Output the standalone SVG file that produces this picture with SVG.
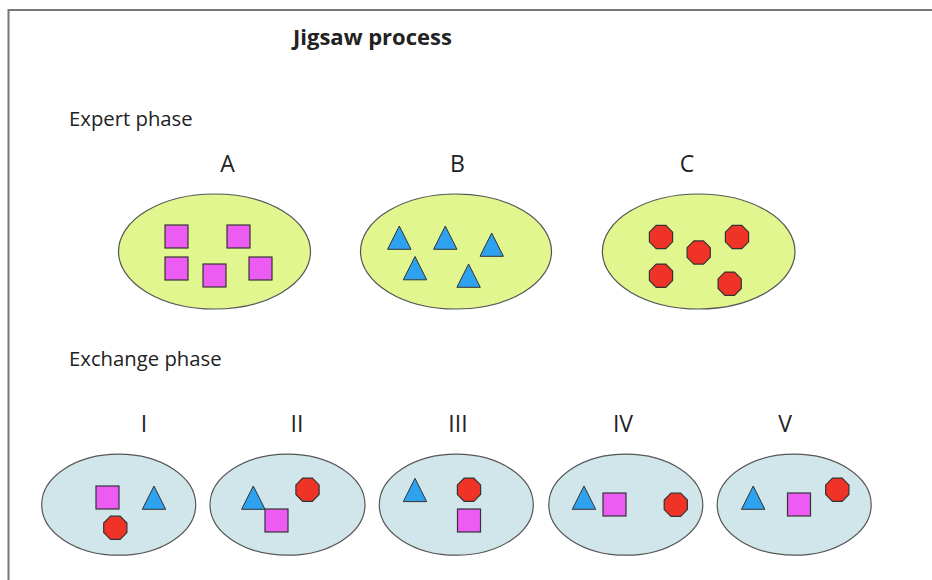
<svg xmlns="http://www.w3.org/2000/svg" xmlns:xlink="http://www.w3.org/1999/xlink" width="932" height="580" viewBox="0 0 932 580">
<style>
.t{font-family:"Open Sans","Liberation Sans",sans-serif;fill:#222}
.title{font-size:22px;font-weight:bold}
.ph{font-size:20.3px}
.lab{font-size:23px;text-anchor:middle}
.eg{fill:#e2f68f;stroke:#555;stroke-width:1.2}
.eb{fill:#d1e6ea;stroke:#555;stroke-width:1.2}
.sq{fill:#ec5cf3;stroke:#333;stroke-width:1.2}
.tr{fill:#2ea2ee;stroke:#333;stroke-width:1}
.oc{fill:#ef3326;stroke:#333;stroke-width:1.2}
</style>
<defs>
<rect id="sq" class="sq" x="0" y="0" width="23" height="23"/>
<polygon id="tr" class="tr" points="0,0 11.7,23.3 -11.7,23.3"/>
<polygon id="oc" class="oc" points="-4.8,-11.6 4.8,-11.6 11.6,-4.8 11.6,4.8 4.8,11.6 -4.8,11.6 -11.6,4.8 -11.6,-4.8"/>
</defs>
<rect width="932" height="580" fill="#fff"/>
<path d="M8.5,580 V10 H932" fill="none" stroke="#777" stroke-width="2"/>
<text class="t title" x="293" y="45">Jigsaw process</text>
<text class="t ph" x="69" y="126">Expert phase</text>
<text class="t ph" x="69" y="366">Exchange phase</text>
<g id="A">
<text class="t lab" x="227.5" y="172">A</text>
<ellipse class="eg" cx="214.5" cy="251.5" rx="96" ry="57.5"/>
<use xlink:href="#sq" x="165" y="225"/>
<use xlink:href="#sq" x="227" y="225"/>
<use xlink:href="#sq" x="165" y="257"/>
<use xlink:href="#sq" x="203" y="264"/>
<use xlink:href="#sq" x="249" y="257"/>
</g>
<g id="B">
<text class="t lab" x="457.5" y="172">B</text>
<ellipse class="eg" cx="456" cy="251.5" rx="95.5" ry="57.5"/>
<use xlink:href="#tr" x="399.3" y="226"/>
<use xlink:href="#tr" x="445.3" y="226"/>
<use xlink:href="#tr" x="491.7" y="233"/>
<use xlink:href="#tr" x="415" y="256.5"/>
<use xlink:href="#tr" x="468.6" y="264"/>
</g>
<g id="C">
<text class="t lab" x="687" y="172">C</text>
<ellipse class="eg" cx="698.7" cy="251.5" rx="96.3" ry="57.5"/>
<use xlink:href="#oc" x="661" y="237"/>
<use xlink:href="#oc" x="698.7" y="252.5"/>
<use xlink:href="#oc" x="737" y="237"/>
<use xlink:href="#oc" x="661" y="275.7"/>
<use xlink:href="#oc" x="729.7" y="283.7"/>
</g>
<g id="I">
<text class="t lab" x="144" y="432">I</text>
<ellipse class="eb" cx="118.7" cy="504.7" rx="77" ry="50.5"/>
<use xlink:href="#sq" x="96" y="486"/>
<use xlink:href="#tr" x="154" y="486"/>
<use xlink:href="#oc" x="115.3" y="527.8"/>
</g>
<g id="II">
<text class="t lab" x="297" y="432">II</text>
<ellipse class="eb" cx="287.5" cy="504.7" rx="77.5" ry="50.5"/>
<use xlink:href="#tr" x="253.3" y="486"/>
<use xlink:href="#sq" x="265" y="509"/>
<use xlink:href="#oc" x="307.5" y="489.7"/>
</g>
<g id="III">
<text class="t lab" x="458" y="432">III</text>
<ellipse class="eb" cx="456.3" cy="504.7" rx="77" ry="50.5"/>
<use xlink:href="#tr" x="415" y="478.3"/>
<use xlink:href="#oc" x="469" y="489.7"/>
<use xlink:href="#sq" x="457.5" y="509"/>
</g>
<g id="IV">
<text class="t lab" x="623" y="432">IV</text>
<ellipse class="eb" cx="625.8" cy="504.7" rx="77" ry="50.5"/>
<use xlink:href="#tr" x="584" y="486"/>
<use xlink:href="#sq" x="603" y="493"/>
<use xlink:href="#oc" x="675.8" y="504.8"/>
</g>
<g id="V">
<text class="t lab" x="785" y="432">V</text>
<ellipse class="eb" cx="794.2" cy="504.7" rx="77" ry="50.5"/>
<use xlink:href="#tr" x="753.2" y="486"/>
<use xlink:href="#sq" x="787.5" y="493"/>
<use xlink:href="#oc" x="837.3" y="489.7"/>
</g>
<g id="connectors"/>
</svg>
